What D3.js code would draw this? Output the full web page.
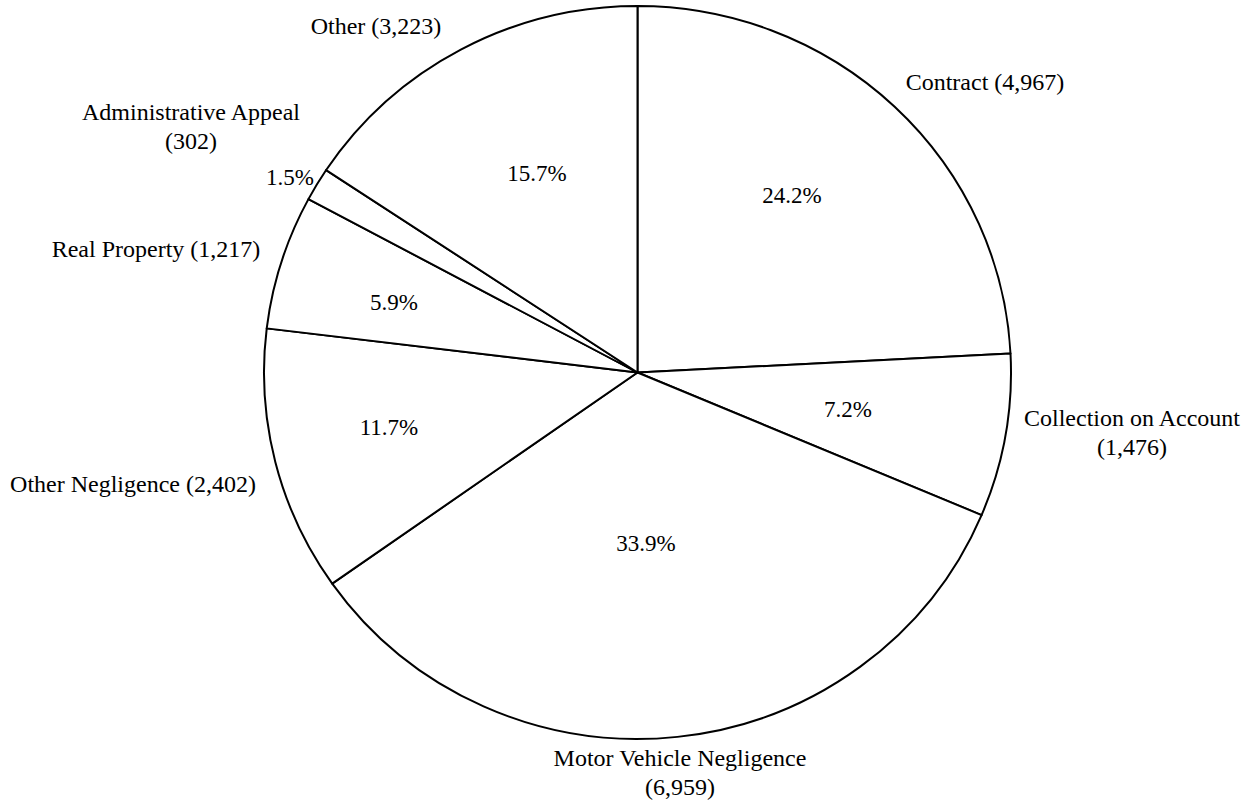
<!DOCTYPE html>
<html>
<head>
<meta charset="utf-8">
<script src="https://cdn.jsdelivr.net/npm/d3@7"></script>
<style>
  html, body { margin: 0; padding: 0; background: #fff; }
  svg { display: block; }
</style>
</head>
<body>
<svg id="chart" width="1252" height="810"></svg>
<script>
// ---- data ----
const categories = ["Contract", "Collection on Account", "Motor Vehicle Negligence",
  "Other Negligence", "Real Property", "Administrative Appeal", "Other"];
const counts = [4967, 1476, 6959, 2402, 1217, 302, 3223];
const percentLabels = ["24.2%", "7.2%", "33.9%", "11.7%", "5.9%", "1.5%", "15.7%"];
const twoLineLabels = ["Collection on Account", "Motor Vehicle Negligence", "Administrative Appeal"];

// ---- layout (positions only) ----
const FONT = "'Liberation Serif', 'Times New Roman', Times, 'DejaVu Serif', serif";
const cx = 637.5, cy = 372.5, rx = 373.5, ry = 366.5;
const nameLabelPos = {
  "Contract": [985, 90],
  "Collection on Account": [1132, 426],
  "Motor Vehicle Negligence": [680, 766],
  "Other Negligence": [133, 492],
  "Real Property": [156, 257],
  "Administrative Appeal": [191, 120],
  "Other": [376, 34]
};
const pctLabelPos = {
  "Contract": [792, 203],
  "Collection on Account": [848, 417],
  "Motor Vehicle Negligence": [646, 551],
  "Other Negligence": [389, 435],
  "Real Property": [394, 310],
  "Administrative Appeal": [290, 185],
  "Other": [537, 181]
};
const lineGap = 29;

const data = categories.map((c, i) => ({ name: c, value: counts[i], pct: percentLabels[i] }));
const fmt = d3.format(",");

const svg = d3.select("#chart");

const pie = d3.pie().value(d => d.value).sort(null).startAngle(0).endAngle(2 * Math.PI);
const arc = d3.arc().innerRadius(0).outerRadius(rx);

const g = svg.append("g")
  .attr("transform", `translate(${cx},${cy}) scale(1,${ry / rx})`);

g.selectAll("path.slice")
  .data(pie(data))
  .join("path")
  .attr("class", "slice")
  .attr("d", arc)
  .attr("fill", "#fff")
  .attr("stroke", "#000")
  .attr("stroke-width", 2)
  .attr("stroke-linejoin", "round");

// percentage labels
svg.selectAll("text.pct")
  .data(data)
  .join("text")
  .attr("class", "pct")
  .attr("x", d => pctLabelPos[d.name][0])
  .attr("y", d => pctLabelPos[d.name][1])
  .attr("text-anchor", "middle")
  .style("font-family", FONT)
  .style("font-size", "23px")
  .attr("fill", "#000")
  .text(d => d.pct);

// category labels
const nl = svg.selectAll("text.name")
  .data(data)
  .join("text")
  .attr("class", "name")
  .attr("x", d => nameLabelPos[d.name][0])
  .attr("y", d => nameLabelPos[d.name][1])
  .attr("text-anchor", "middle")
  .style("font-family", FONT)
  .style("font-size", "24px")
  .attr("fill", "#000");

nl.each(function(d) {
  const t = d3.select(this);
  const p = nameLabelPos[d.name];
  if (twoLineLabels.includes(d.name)) {
    t.append("tspan").attr("x", p[0]).attr("y", p[1]).text(d.name);
    t.append("tspan").attr("x", p[0]).attr("y", p[1] + lineGap).text(`(${fmt(d.value)})`);
  } else {
    t.text(`${d.name} (${fmt(d.value)})`);
  }
});
</script>
</body>
</html>
